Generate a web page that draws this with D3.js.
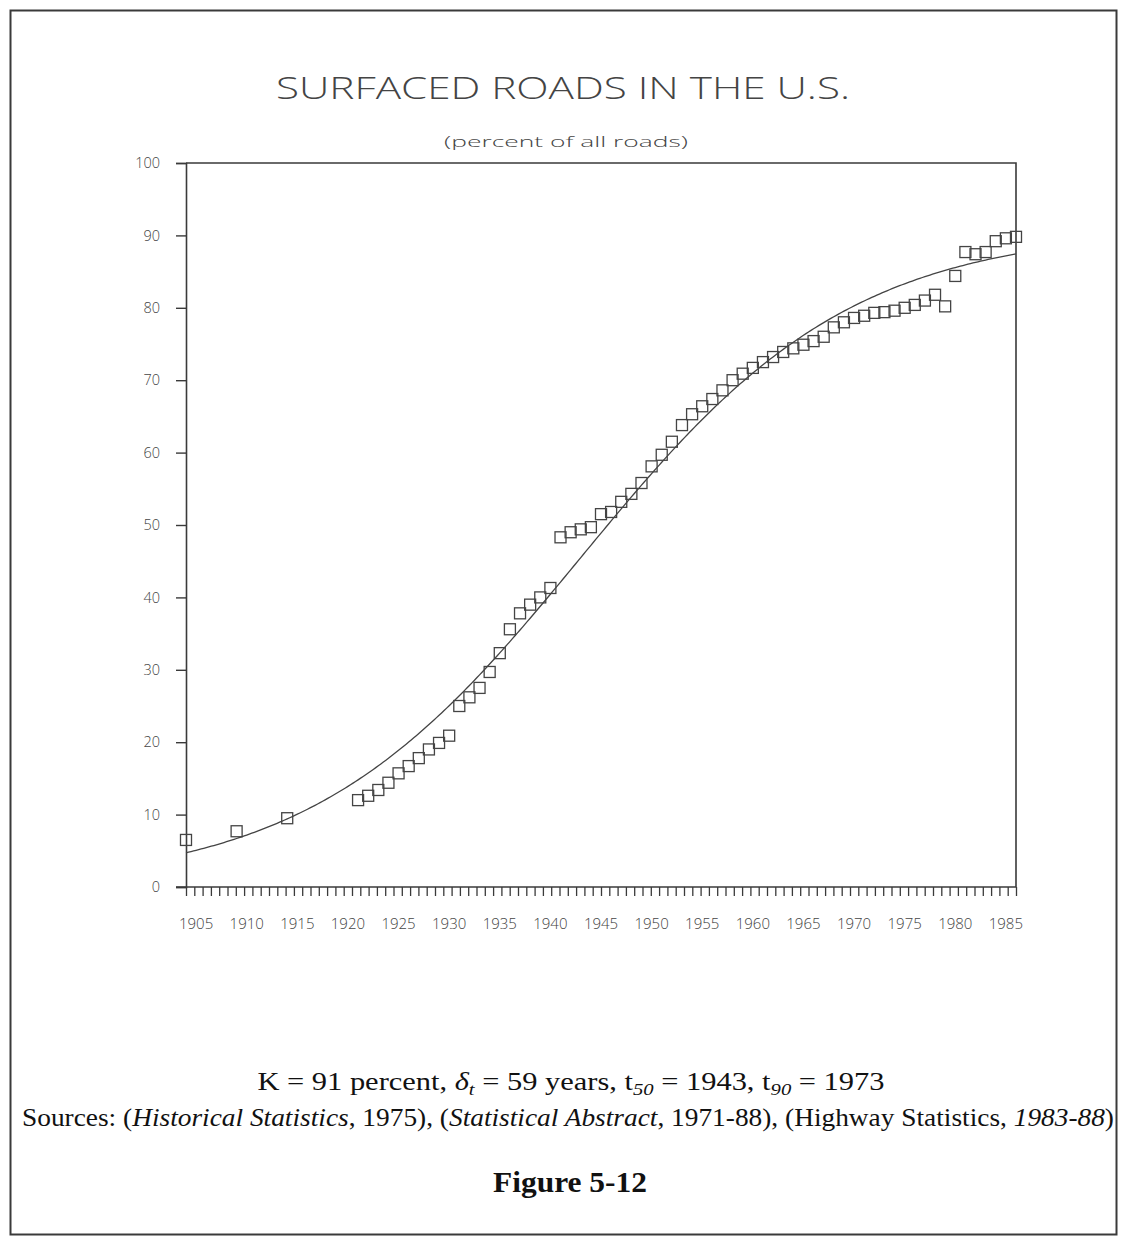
<!DOCTYPE html>
<html>
<head>
<meta charset="utf-8">
<script src="https://cdn.jsdelivr.net/npm/d3@7"></script>
<style>
  html, body { margin: 0; padding: 0; background: #fff; }
  svg { display: block; }
</style>
</head>
<body>
<svg id="chart" width="1128" height="1243"></svg>
<script>
// Surfaced roads as a share of all U.S. roads, by year
const years = [
  1904, 1909, 1914,
  1921, 1922, 1923, 1924, 1925, 1926, 1927, 1928, 1929, 1930,
  1931, 1932, 1933, 1934, 1935, 1936, 1937, 1938, 1939, 1940,
  1941, 1942, 1943, 1944, 1945, 1946, 1947, 1948, 1949, 1950,
  1951, 1952, 1953, 1954, 1955, 1956, 1957, 1958, 1959, 1960,
  1961, 1962, 1963, 1964, 1965, 1966, 1967, 1968, 1969, 1970,
  1971, 1972, 1973, 1974, 1975, 1976, 1977, 1978, 1979, 1980,
  1981, 1982, 1983, 1984, 1985, 1986
];
const surfacedPct = [
  6.5, 7.7, 9.5,
  12.0, 12.6, 13.4, 14.4, 15.7, 16.7, 17.8, 19.0, 19.9, 20.9,
  25.0, 26.2, 27.5, 29.7, 32.3, 35.6, 37.8, 39.0, 40.0, 41.3,
  48.3, 49.0, 49.4, 49.7, 51.5, 51.8, 53.2, 54.3, 55.8, 58.1,
  59.7, 61.5, 63.8, 65.3, 66.4, 67.4, 68.6, 70.0, 70.9, 71.7,
  72.5, 73.2, 73.9, 74.4, 74.9, 75.4, 76.0, 77.3, 78.0, 78.6,
  78.9, 79.3, 79.4, 79.6, 80.0, 80.4, 81.0, 81.8, 80.2, 84.4,
  87.7, 87.4, 87.7, 89.2, 89.6, 89.8
];

// Axis ticks and labels
const yTickValues = [0, 10, 20, 30, 40, 50, 60, 70, 80, 90, 100];
const xLabelYears = [1905, 1910, 1915, 1920, 1925, 1930, 1935, 1940, 1945,
                     1950, 1955, 1960, 1965, 1970, 1975, 1980, 1985];
const xMinorTickCount = 100;

// Logistic fit parameters stated in the caption
const fitK = 91;          // saturation level, percent
const fitWidth = 59;      // years from 10% to 90% of K
const fitMidpoint = 1943; // year at 50% of K

const svg = d3.select("#chart");
const ink = "#3a3a3a";
const plotFont = "'Open Sans', 'DejaVu Sans', sans-serif";
const serif = "'Liberation Serif', 'Times New Roman', serif";

// Outer frame
svg.append("rect")
  .attr("x", 10.5).attr("y", 10.5)
  .attr("width", 1106).attr("height", 1224)
  .attr("fill", "none").attr("stroke", ink).attr("stroke-width", 2);

const x = d3.scaleLinear().domain([1904, 1986]).range([186, 1016]);
const y = d3.scaleLinear().domain([0, 100]).range([887, 163]);

// Title and subtitle
svg.append("text")
  .attr("x", 563).attr("y", 99)
  .attr("text-anchor", "middle")
  .attr("textLength", 574).attr("lengthAdjust", "spacingAndGlyphs")
  .attr("font-family", plotFont).attr("font-weight", 300)
  .attr("font-size", 32).attr("fill", "#444")
  .text("SURFACED ROADS IN THE U.S.");

svg.append("text")
  .attr("x", 566).attr("y", 147)
  .attr("text-anchor", "middle")
  .attr("textLength", 244).attr("lengthAdjust", "spacingAndGlyphs")
  .attr("font-family", plotFont).attr("font-weight", 300)
  .attr("font-size", 15).attr("fill", "#444")
  .text("(percent of all roads)");

// Plot frame: top and right edges
svg.append("path")
  .attr("d", `M${x.range()[0]},${y(100)}H${x.range()[1]}V${y(0)}`)
  .attr("fill", "none").attr("stroke", ink).attr("stroke-width", 1.6);

// Y axis
const yAxis = d3.axisLeft(y).tickValues(yTickValues).tickSize(10).tickPadding(16)
  .tickFormat(d3.format("d"));
const gy = svg.append("g").attr("transform", `translate(${x.range()[0]},0)`).call(yAxis);
gy.select(".domain").attr("stroke", ink).attr("stroke-width", 1.6);
gy.selectAll(".tick line").attr("stroke", ink).attr("stroke-width", 1.4);
gy.selectAll(".tick text")
  .attr("font-family", plotFont).attr("font-weight", 300)
  .attr("font-size", 14.5).attr("fill", "#444");

// X axis: evenly spaced minor ticks
const tickStep = (x.domain()[1] - x.domain()[0]) / xMinorTickCount;
const minorTicks = d3.range(xMinorTickCount + 1).map(i => x.domain()[0] + i * tickStep);
const xAxis = d3.axisBottom(x).tickValues(minorTicks).tickSize(9).tickFormat("");
const gx = svg.append("g").attr("transform", `translate(0,${y(0)})`).call(xAxis);
gx.select(".domain").attr("stroke", ink).attr("stroke-width", 1.6)
  .attr("d", `M${x.range()[0] - 10},0H${x.range()[1]}`);
gx.selectAll(".tick line").attr("stroke", ink).attr("stroke-width", 1.3);

// X axis year labels
svg.append("g").selectAll("text")
  .data(xLabelYears)
  .join("text")
  .attr("x", d => x(d))
  .attr("y", 929)
  .attr("text-anchor", "middle")
  .attr("font-family", plotFont).attr("font-weight", 300)
  .attr("font-size", 15).attr("fill", "#444")
  .text(d => d);

// Fitted logistic curve
const logistic = t => fitK / (1 + Math.exp(-Math.log(81) / fitWidth * (t - fitMidpoint)));
const curveYears = d3.range(x.domain()[0], x.domain()[1] + 0.01, 0.25);
svg.append("path")
  .datum(curveYears)
  .attr("d", d3.line().x(t => x(t)).y(t => y(logistic(t))))
  .attr("fill", "none").attr("stroke", "#444").attr("stroke-width", 1.3);

// Observed values as open squares
const sq = 11;
svg.append("g").selectAll("rect")
  .data(years.map((yr, i) => ({ yr, v: surfacedPct[i] })))
  .join("rect")
  .attr("x", d => x(d.yr) - sq / 2)
  .attr("y", d => y(d.v) - sq / 2)
  .attr("width", sq).attr("height", sq)
  .attr("fill", "none").attr("stroke", "#444").attr("stroke-width", 1.3);

// Caption
const cap1 = svg.append("text")
  .attr("x", 571).attr("y", 1090)
  .attr("text-anchor", "middle")
  .attr("textLength", 627).attr("lengthAdjust", "spacingAndGlyphs")
  .attr("font-family", serif).attr("font-size", 25).attr("fill", "#111");
cap1.append("tspan").text("K = 91 percent, ");
cap1.append("tspan").attr("font-style", "italic").text("δ");
cap1.append("tspan").attr("font-style", "italic").attr("font-size", 17).attr("dy", 5).text("t");
cap1.append("tspan").attr("dy", -5).text(" = 59 years, t");
cap1.append("tspan").attr("font-style", "italic").attr("font-size", 17).attr("dy", 5).text("50");
cap1.append("tspan").attr("dy", -5).text(" = 1943, t");
cap1.append("tspan").attr("font-style", "italic").attr("font-size", 17).attr("dy", 5).text("90");
cap1.append("tspan").attr("dy", -5).text(" = 1973");

const cap2 = svg.append("text")
  .attr("x", 568).attr("y", 1126)
  .attr("text-anchor", "middle")
  .attr("textLength", 1092).attr("lengthAdjust", "spacingAndGlyphs")
  .attr("font-family", serif).attr("font-size", 25).attr("fill", "#111");
cap2.append("tspan").text("Sources: (");
cap2.append("tspan").attr("font-style", "italic").text("Historical Statistics");
cap2.append("tspan").text(", 1975), (");
cap2.append("tspan").attr("font-style", "italic").text("Statistical Abstract");
cap2.append("tspan").text(", 1971-88), (Highway Statistics, ");
cap2.append("tspan").attr("font-style", "italic").text("1983-88");
cap2.append("tspan").text(")");

svg.append("text")
  .attr("x", 570).attr("y", 1192)
  .attr("text-anchor", "middle")
  .attr("textLength", 154).attr("lengthAdjust", "spacingAndGlyphs")
  .attr("font-family", serif).attr("font-weight", "bold")
  .attr("font-size", 29).attr("fill", "#111")
  .text("Figure 5-12");
</script>
</body>
</html>
